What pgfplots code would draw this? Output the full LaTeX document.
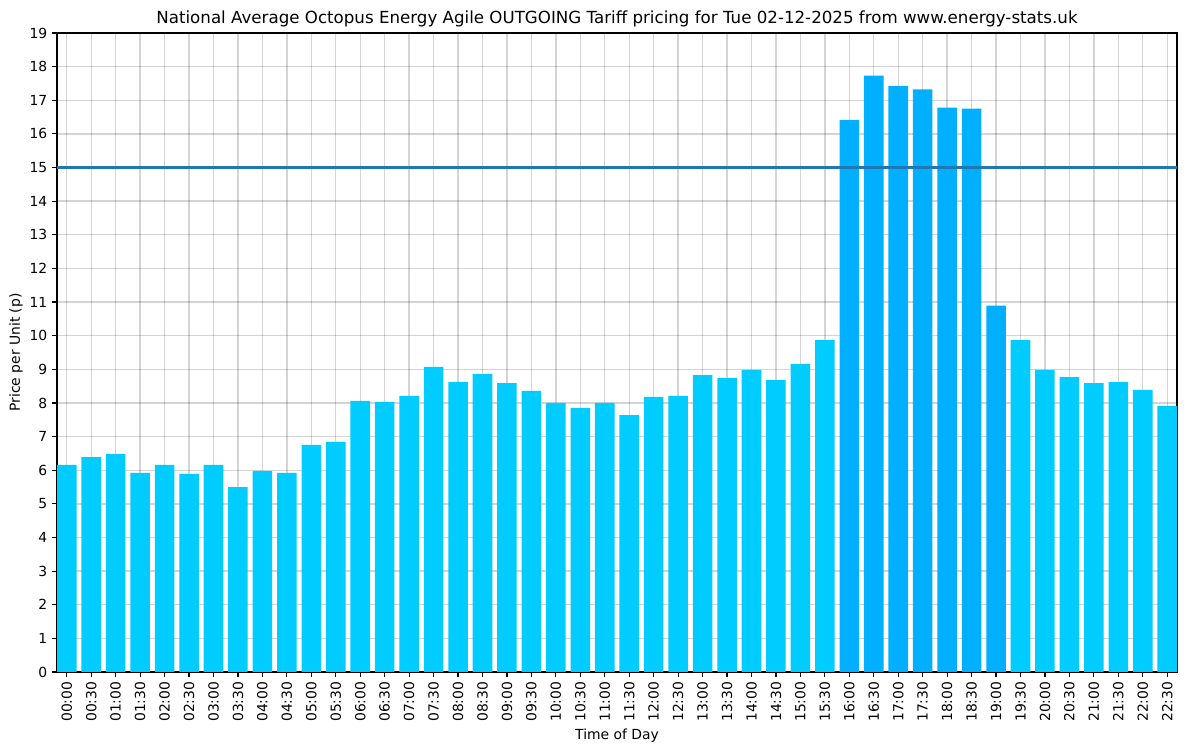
\documentclass[border=0pt]{standalone}
\usepackage{pgfplots}
\pgfplotsset{compat=1.18}
\usepackage{fontspec}
\setmainfont{DejaVu Sans}
\definecolor{lightbar}{RGB}{0,204,255}
\definecolor{darkbar}{RGB}{0,176,255}
\definecolor{mplblue}{RGB}{31,119,180}
\begin{document}
\begin{tikzpicture}
\path[use as bounding box] (0,0) rectangle (854.64pt,540.72pt);
\begin{axis}[
  at={(41.04pt,56.88pt)}, anchor=south west,
  scale only axis, width=806.4pt, height=460.08pt,
  xmin=-0.4, xmax=45.4, ymin=0, ymax=19,
  ytick={0,1,...,19},
  xtick={0,1,...,45},
  xticklabels={00:00,00:30,01:00,01:30,02:00,02:30,03:00,03:30,04:00,04:30,05:00,05:30,06:00,06:30,07:00,07:30,08:00,08:30,09:00,09:30,10:00,10:30,11:00,11:30,12:00,12:30,13:00,13:30,14:00,14:30,15:00,15:30,16:00,16:30,17:00,17:30,18:00,18:30,19:00,19:30,20:00,20:30,21:00,21:30,22:00,22:30},
  xticklabel style={rotate=90, anchor=east, font=\fontsize{10}{12}\selectfont},
  yticklabel style={font=\fontsize{10}{12}\selectfont},
  /pgf/number format/assume math mode=true,
  tick align=outside, major tick length=3.5pt,
  tick style={black, line width=0.8pt},
  xtick pos=bottom, ytick pos=left,
  grid=major,
  major grid style={black, opacity=0.17, line width=1pt},
  axis line style={black, line width=0.8pt},
  title={National Average Octopus Energy Agile OUTGOING Tariff pricing for Tue 02-12-2025 from www.energy-stats.uk},
  every axis title/.style={font=\fontsize{12}{14}\selectfont, at={(0.5,1)}, anchor=base, yshift=6.5pt, inner sep=0pt},
  xlabel={Time of Day}, ylabel={Price per Unit (p)},
  xlabel style={font=\fontsize{10}{12}\selectfont, yshift=2pt},
  ylabel style={font=\fontsize{10}{12}\selectfont, yshift=-2pt},
  ybar, bar width=0.8, bar shift=0pt,
  clip=true,
]
\addplot[draw=none, fill=lightbar] coordinates {
(0,6.16) (1,6.39) (2,6.48) (3,5.92) (4,6.16) (5,5.89) (6,6.16) (7,5.50) (8,5.98) (9,5.92)
(10,6.75) (11,6.84) (12,8.06) (13,8.03) (14,8.21) (15,9.07) (16,8.62) (17,8.86) (18,8.59) (19,8.36)
(20,8.00) (21,7.85) (22,8.00) (23,7.64) (24,8.18) (25,8.21) (26,8.83) (27,8.74) (28,8.98) (29,8.68)
(30,9.16) (31,9.87)
(39,9.87) (40,8.98) (41,8.77) (42,8.59) (43,8.62) (44,8.39) (45,7.91)
};
\addplot[draw=none, fill=darkbar] coordinates {
(32,16.42) (33,17.73) (34,17.43) (35,17.32) (36,16.78) (37,16.75) (38,10.89)
};
\addplot[sharp plot, mplblue, line width=1.5pt, forget plot] coordinates {(-0.4,15) (45.4,15)};
\end{axis}
\end{tikzpicture}
\end{document}
